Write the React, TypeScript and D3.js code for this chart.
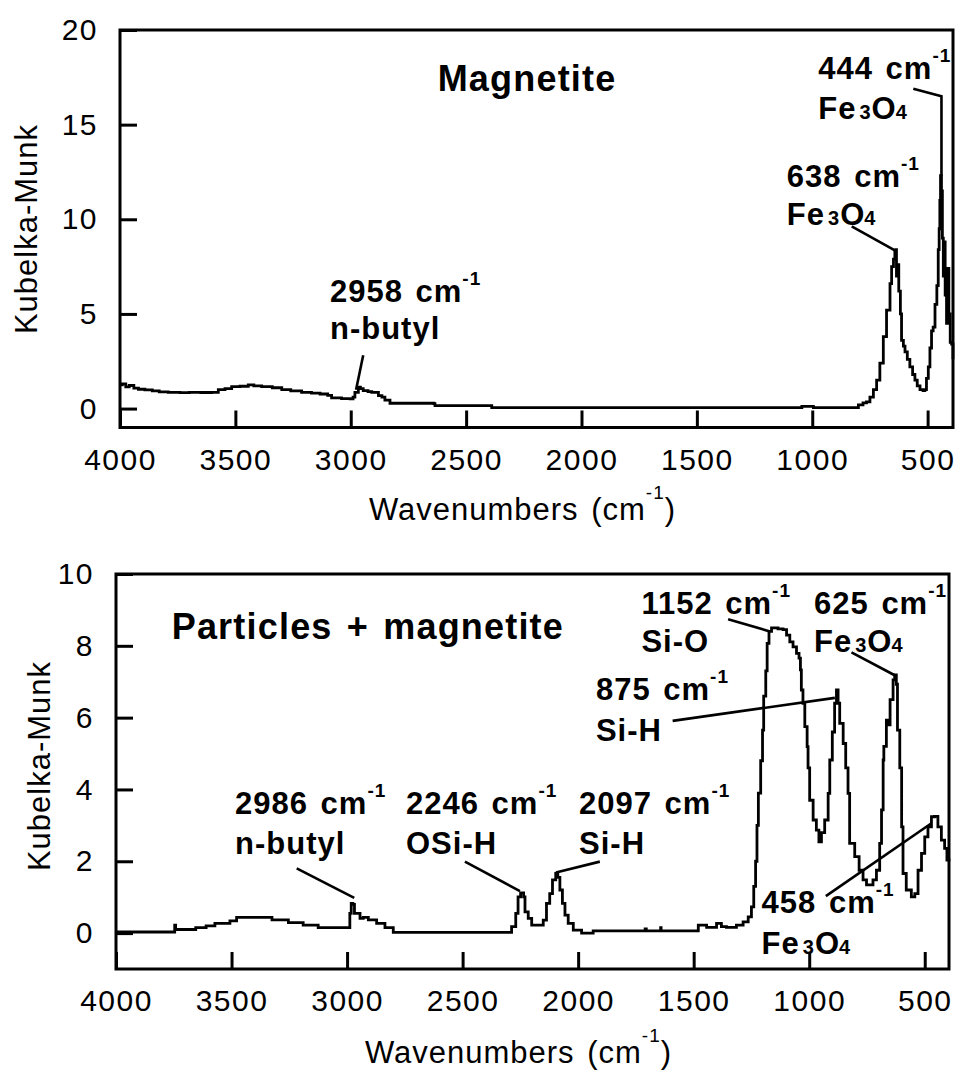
import React, { useEffect, useRef } from 'react';
import * as d3 from 'd3';

// Magnetite spectrum (wavenumber, Kubelka-Munk)
const magWavenumber = [
  4000, 3990, 3975, 3960, 3940, 3920, 3892, 3860, 3830, 3791, 3740, 3700, 3650, 3603, 3574, 3545, 3516, 3480,
  3444, 3420, 3386, 3340, 3299, 3260, 3213, 3170, 3133, 3100, 3083, 3040, 3003, 2990, 2982, 2967, 2958, 2946,
  2925, 2909, 2880, 2865, 2852, 2830, 2700, 2640, 2635, 2395, 2389, 1050, 1045, 1000, 995, 815, 800, 780, 765,
  750, 735, 721, 707, 692, 678, 663, 656, 648, 642, 638, 635, 631, 625, 618, 613, 605, 598, 588, 577, 565, 555,
  545, 533, 520, 512, 505, 497, 490, 483, 476, 468, 460, 454, 450, 447, 444, 440, 436, 432, 428, 424, 418, 412,
  408, 402, 396, 390,
];
const magKM = [
  1.25, 1.31, 1.15, 1.22, 1.08, 1.02, 0.99, 0.93, 0.88, 0.86, 0.84, 0.86, 0.85, 0.86, 1.0, 1.05, 1.16, 1.18,
  1.25, 1.2, 1.16, 1.1, 1.0, 0.93, 0.86, 0.82, 0.77, 0.7, 0.56, 0.53, 0.51, 0.6, 0.86, 1.13, 1.05, 0.95,
  0.9, 0.86, 0.68, 0.6, 0.45, 0.28, 0.28, 0.26, 0.16, 0.16, 0.05, 0.05, 0.12, 0.12, 0.05, 0.05, 0.2, 0.3, 0.35,
  0.6, 1.0, 1.5, 2.4, 3.8, 5.2, 6.6, 7.5, 7.9, 8.3, 8.4, 7.0, 7.6, 6.2, 5.0, 3.6, 3.3, 3.0, 2.6, 2.2, 1.8, 1.5,
  1.2, 1.0, 0.95, 1.0, 1.6, 2.2, 3.2, 4.1, 4.3, 5.5, 6.5, 8.4, 9.5, 11.0, 12.3, 11.5, 9.0, 7.0, 8.8, 6.0, 4.5, 7.4,
  5.0, 3.5, 3.4, 2.6,
];

// Particles + magnetite spectrum
const mixWavenumber = [
  4000, 3750, 3746, 3742, 3660, 3655, 3610, 3572, 3507, 3478, 3334, 3325, 3254, 3190, 3125, 2995, 2988, 2982,
  2975, 2968, 2944, 2930, 2908, 2872, 2836, 2800, 2303, 2288, 2270, 2260, 2249, 2236, 2230, 2216, 2201, 2158,
  2151, 2137, 2123, 2111, 2097, 2088, 2079, 2068, 2057, 2043, 2021, 1985, 1935, 1715, 1710, 1705, 1645, 1643,
  1641, 1488, 1480, 1444, 1401, 1380, 1358, 1315, 1286, 1264, 1250, 1240, 1232, 1226, 1220, 1210, 1202, 1197,
  1188, 1182, 1174, 1163, 1152, 1135, 1113, 1098, 1084, 1070, 1055, 1044, 1038, 1034, 1027, 1019, 1009, 1005,
  998, 983, 969, 958, 947, 933, 918, 911, 900, 890, 882, 875, 868, 853, 842, 832, 825, 803, 784, 767, 752, 724,
  709, 695, 687, 680, 677, 666, 660, 650, 637, 630, 623, 618, 608, 600, 594, 580, 558, 543, 529, 514, 500, 486,
  471, 458, 443, 428, 414, 404, 395,
];
const mixKM = [
  0.03, 0.03, 0.22, 0.1, 0.1, 0.15, 0.2, 0.27, 0.34, 0.44, 0.44, 0.37, 0.29, 0.22, 0.15, 0.15, 0.55, 0.83,
  0.8, 0.55, 0.41, 0.44, 0.37, 0.27, 0.15, 0.02, 0.02, 0.18, 0.55, 1.01, 1.12, 1.01, 0.59, 0.41, 0.22, 0.22,
  0.36, 0.83, 1.1, 1.48, 1.66, 1.55, 1.2, 0.83, 0.5, 0.27, 0.08, 0.0, 0.06, 0.06, 0.12, 0.06, 0.06, 0.15,
  0.06, 0.06, 0.22, 0.16, 0.27, 0.18, 0.16, 0.22, 0.31, 0.45, 0.73, 1.3, 2.0, 3.0, 3.9, 4.8, 5.65, 6.6,
  7.3, 8.07, 8.4, 8.5, 8.5, 8.47, 8.45, 8.3, 8.11, 7.97, 7.79, 7.66, 7.33, 6.77, 6.4, 5.75, 5.19, 4.6,
  3.7, 3.15, 2.87, 2.54, 2.8, 3.15, 3.89, 4.82, 5.6, 6.4, 6.77, 6.4, 5.84, 5.28, 4.6, 3.89, 2.5, 2.13, 1.75, 1.48, 1.34, 1.48,
  1.75, 2.5, 3.43, 4.82, 5.2, 5.93, 5.8, 6.5, 7.05, 7.19, 6.93, 5.65, 4.6, 2.96, 1.66, 1.2, 1.01, 1.1, 1.75, 2.22, 2.68, 2.96,
  3.24, 3.25, 2.96, 2.59, 2.36, 2.03, 2.0,
];

const xTickValues = [4000, 3500, 3000, 2500, 2000, 1500, 1000, 500];
const magYTicks = [0, 5, 10, 15, 20];
const mixYTicks = [0, 2, 4, 6, 8, 10];

const FONT = '"Liberation Sans", Arial, Helvetica, sans-serif';
const sup = { t: '-1', size: 19, rise: 17 };
const fe3o4 = [{ t: 'Fe' }, { t: '3', size: 20, dx: 3 }, { t: 'O' }, { t: '4', size: 20, dx: -1 }];

// annotations: label anchor in data units, leader line as data points
const magNotes = [
  { w: 3090, v1: 5.65, v2: 3.65, l1: [{ t: '2958 cm' }, sup], l2: [{ t: 'n-butyl' }], line: [[2946, 2.82], [2977, 1.0]] },
  { w: 974, v1: 17.4, v2: 15.3, l1: [{ t: '444 cm' }, sup], l2: fe3o4, line: [[562, 16.9], [440, 16.5], [440, 12.3]] },
  { w: 1110, v1: 11.72, v2: 9.68, l1: [{ t: '638 cm' }, sup], l2: fe3o4, line: [[829, 9.63], [642, 8.36]] },
];
const mixNotes = [
  { w: 3485, v1: 3.31, v2: 2.21, l1: [{ t: '2986 cm' }, sup], l2: [{ t: 'n-butyl' }], line: [[3218, 1.8], [2969, 0.98]] },
  { w: 2745, v1: 3.31, v2: 2.21, l1: [{ t: '2246 cm' }, sup], l2: [{ t: 'OSi-H' }], line: [[2490, 1.99], [2252, 1.17]] },
  { w: 1996, v1: 3.31, v2: 2.21, l1: [{ t: '2097 cm' }, sup], l2: [{ t: 'Si-H' }], line: [[1906, 1.99], [2096, 1.69]] },
  { w: 1726, v1: 8.9, v2: 7.82, l1: [{ t: '1152 cm' }, sup], l2: [{ t: 'Si-O' }], line: [[1351, 8.74], [1170, 8.4]] },
  { w: 979, v1: 8.9, v2: 7.82, l1: [{ t: '625 cm' }, sup], l2: fe3o4, line: [[817, 7.82], [630, 7.18]] },
  { w: 1923, v1: 6.5, v2: 5.36, l1: [{ t: '875 cm' }, sup], l2: [{ t: 'Si-H' }], line: [[1591, 5.91], [889, 6.55]] },
  { w: 1206, v1: 0.56, v2: -0.57, l1: [{ t: '458 cm' }, sup], l2: fe3o4, line: [[928, 1.03], [471, 3.06]] },
];

const panels = [
  {
    wave: magWavenumber, km: magKM, yTicks: magYTicks, notes: magNotes,
    xDomain: [4000, 390], yDomain: [-1, 20],
    left: 120, right: 953, top: 30, bottom: 427.5,
    title: 'Magnetite', titleAt: [2236, 16.77], titleAnchor: 'middle',
    yTitleX: 37, yTitleY: 229, xTitleY: 520,
  },
  {
    wave: mixWavenumber, km: mixKM, yTicks: mixYTicks, notes: mixNotes,
    xDomain: [4000, 395], yDomain: [-1, 10],
    left: 116, right: 949, top: 574, bottom: 969,
    title: 'Particles + magnetite', titleAt: [3759, 8.19], titleAnchor: 'start',
    yTitleX: 50, yTitleY: 766, xTitleY: 1063,
  },
];

const addText = (parent, px, py, parts, size, weight, anchor = 'start', spacing = 1) => {
  const txt = parent
    .append('text')
    .attr('x', px)
    .attr('y', py)
    .attr('font-family', FONT)
    .attr('font-size', size)
    .attr('font-weight', weight)
    .attr('text-anchor', anchor)
    .style('letter-spacing', `${spacing}px`)
    .style('word-spacing', '3px')
    .attr('fill', '#000');
  let prev = 0;
  parts.forEach((p) => {
    const rise = p.rise || 0;
    txt.append('tspan')
      .attr('dy', prev - rise)
      .attr('dx', p.dx || 0)
      .attr('font-size', p.size || size)
      .text(p.t);
    prev = rise;
  });
  return txt;
};

const App = () => {
  const svgRef = useRef(null);

  useEffect(() => {
    const svg = d3.select(svgRef.current);
    svg.selectAll('*').remove();

    panels.forEach((p) => {
      const x = d3.scaleLinear().domain(p.xDomain).range([p.left, p.right]);
      const y = d3.scaleLinear().domain(p.yDomain).range([p.bottom, p.top]);
      const g = svg.append('g');

      // spectrum, drawn as a staircase like the digitised original
      const pts = p.wave.map((w, i) => [w, p.km[i]]);
      g.append('path')
        .datum(pts)
        .attr('d', d3.line().curve(d3.curveStepAfter).x((d) => x(d[0])).y((d) => y(d[1])))
        .attr('fill', 'none')
        .attr('stroke', '#000')
        .attr('stroke-width', 2.8)
        .attr('stroke-linejoin', 'miter');

      // axes with inward ticks
      const xAxis = g.append('g')
        .attr('transform', `translate(0,${p.bottom})`)
        .call(d3.axisBottom(x).tickValues(xTickValues).tickSize(-17).tickPadding(21).tickFormat(d3.format('d')));
      const yAxis = g.append('g')
        .attr('transform', `translate(${p.left},0)`)
        .call(d3.axisLeft(y).tickValues(p.yTicks).tickSize(-17).tickPadding(22).tickFormat(d3.format('d')));

      [xAxis, yAxis].forEach((a) => {
        a.select('.domain').remove();
        a.attr('font-family', FONT).attr('font-size', 30);
        a.selectAll('line').attr('stroke', '#000').attr('stroke-width', 3);
        a.selectAll('text').attr('fill', '#000').style('letter-spacing', '1.5px');
      });

      // frame
      g.append('rect')
        .attr('x', p.left)
        .attr('y', p.top)
        .attr('width', p.right - p.left)
        .attr('height', p.bottom - p.top)
        .attr('fill', 'none')
        .attr('stroke', '#000')
        .attr('stroke-width', 3);

      // axis titles
      addText(g, 0, 0, [{ t: 'Kubelka-Munk' }], 31, 'normal', 'middle')
        .attr('transform', `translate(${p.yTitleX},${p.yTitleY}) rotate(-90)`);
      addText(g, (p.left + p.right) / 2 - 14, p.xTitleY,
        [{ t: 'Wavenumbers (cm' }, { t: '-1', size: 19, rise: 21 }, { t: ')' }], 31, 'normal', 'middle');

      // panel title
      addText(g, x(p.titleAt[0]), y(p.titleAt[1]), [{ t: p.title }], 36, 'bold', p.titleAnchor, 1.2);

      // peak annotations
      p.notes.forEach((n) => {
        addText(g, x(n.w), y(n.v1), n.l1, 31, 'bold');
        addText(g, x(n.w), y(n.v2), n.l2, 31, 'bold');
        g.append('path')
          .datum(n.line)
          .attr('d', d3.line().x((d) => x(d[0])).y((d) => y(d[1])))
          .attr('fill', 'none')
          .attr('stroke', '#000')
          .attr('stroke-width', 2.6);
      });
    });
  }, []);

  return (
    <svg
      ref={svgRef}
      width={959}
      height={1072}
      style={{ position: 'absolute', left: 0, top: 0, background: '#fff' }}
    />
  );
};

export default App;
